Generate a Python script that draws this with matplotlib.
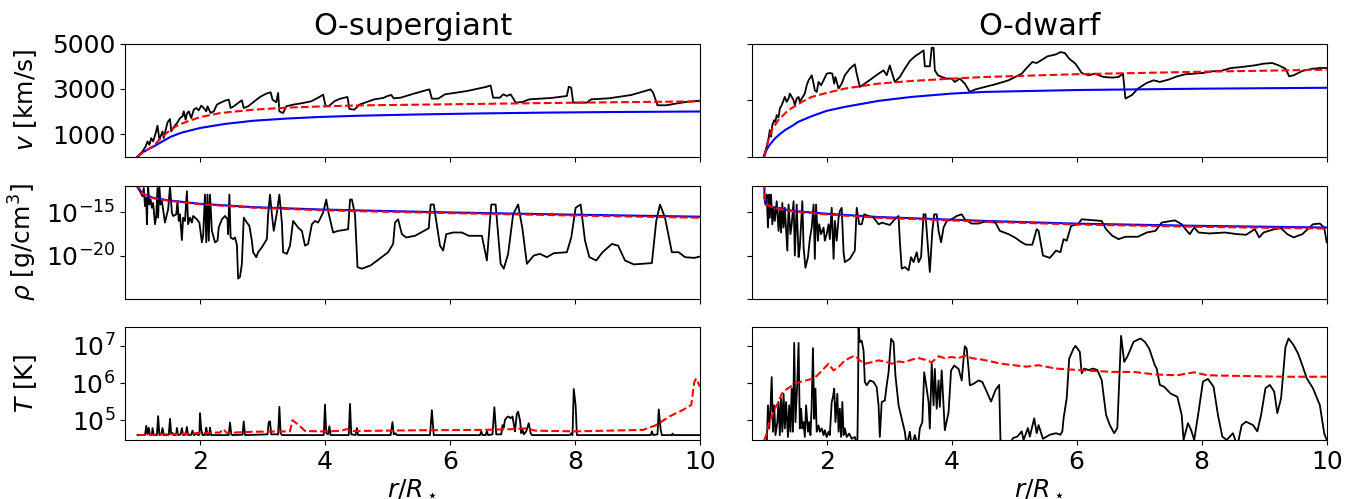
import numpy as np
import matplotlib
matplotlib.use("Agg")
import matplotlib.pyplot as plt
from matplotlib.ticker import NullLocator

# ---------------- data ----------------
# O-supergiant velocity [km/s]
sg_v_x = [1.0,1.08,1.13,1.16,1.19,1.22,1.25,1.29,1.32,1.35,
          1.40,1.42,1.48,1.52,1.54,1.58,1.64,1.68,1.72,1.74,
          1.77,1.79,1.82,1.86,1.90,1.94,1.98,2.02,2.06,2.10,
          2.12,2.17,2.22,2.27,2.32,2.40,2.46,2.49,2.54,2.61,
          2.67,2.70,2.77,2.85,2.96,3.06,3.13,3.16,3.22,3.25,
          3.27,3.33,3.38,3.49,3.65,3.78,3.91,3.97,4.01,4.07,
          4.15,4.23,4.36,4.39,4.47,4.55,4.64,4.79,4.93,5.00,
          5.06,5.10,5.21,5.42,5.57,5.67,5.71,5.81,5.92,6.27,
          6.59,6.65,6.69,6.80,6.85,6.91,6.97,7.02,7.05,7.16,
          7.27,7.62,7.87,7.90,7.94,7.97,8.19,8.26,8.54,8.90,
          9.21,9.25,9.32,9.46,9.61,9.78,10.0]
sg_v_y = [10,231,453,675,527,823,675,1045,1371,749,
          1119,823,1519,1667,1119,1311,1519,1711,1785,2007,
          1637,1903,2007,1711,2081,2155,2051,2259,2155,2007,
          2229,1933,2007,2303,2377,2481,2525,2155,2229,2377,
          2495,2155,2229,2407,2643,2791,2851,2525,2407,2821,
          2007,1933,2229,2303,2377,2451,2643,2747,2229,2259,
          2451,2555,2643,2111,2081,2303,2393,2539,2598,2686,
          2730,2583,2612,2788,2905,2979,2568,2568,2759,2905,
          3096,3154,2612,2612,2759,2686,2759,2539,2393,2422,
          2539,2598,2686,3096,3052,2393,2393,2539,2583,2730,
          2979,2832,2275,2275,2349,2422,2480]
sg_vbeta_x = [1.0,1.05,1.1,1.2,1.27,1.4,1.53,1.7,2.0,2.4,2.85,3.4,3.91,4.55,5.5,6.5,7.5,8.5,10.0]
sg_vbeta_y = [0,120,220,370,470,680,880,1060,1270,1450,1590,1690,1757,1814,1870,1915,1950,1975,2000]
sg_vavg_x = [1.0,1.1,1.2,1.265,1.4,1.53,1.65,1.8,2.0,2.32,2.85,3.38,4.0,4.55,6.0,8.0,10.0]
sg_vavg_y = [0,230,380,500,900,1190,1400,1560,1750,1930,2080,2170,2230,2270,2320,2390,2450]

# O-dwarf velocity [km/s]
dw_v_x = [0.99,1.04,1.07,1.09,1.11,1.13,1.16,1.18,1.20,1.23,
          1.25,1.28,1.31,1.33,1.36,1.39,1.41,1.44,1.47,1.49,
          1.52,1.55,1.57,1.60,1.65,1.68,1.71,1.76,1.79,1.81,
          1.84,1.87,1.91,1.95,2.00,2.05,2.09,2.12,2.14,2.19,
          2.24,2.29,2.37,2.45,2.48,2.53,2.61,2.72,2.83,2.91,
          2.96,3.01,3.04,3.09,3.17,3.25,3.33,3.41,3.49,3.55,
          3.57,3.65,3.68,3.71,3.73,3.78,3.84,3.92,4.00,4.05,
          4.13,4.21,4.29,4.37,4.49,4.70,4.91,5.12,5.19,5.29,
          5.36,5.43,5.53,5.67,5.74,5.81,5.88,5.98,6.08,6.19,
          6.29,6.43,6.57,6.67,6.74,6.78,6.88,6.98,7.12,7.23,
          7.33,7.47,7.61,7.74,7.88,8.02,8.16,8.30,8.47,8.64,
          8.85,8.99,9.13,9.23,9.34,9.40,9.47,9.61,9.78,9.89,
          10.0]
dw_v_y = [0,441,809,1176,882,1397,1617,1544,1838,1735,
          2132,2279,2499,2646,2426,2573,2793,2646,2499,2279,
          2573,2646,2426,2573,2793,3161,3381,3602,3234,2940,
          2866,3307,3161,3381,3675,3704,3675,3234,3528,3013,
          3234,3602,3895,4087,3675,3087,3234,3455,3675,3822,
          3602,4042,3749,3307,3528,3895,4234,4439,4586,4704,
          3999,3999,4822,4822,3822,3602,3528,3455,3455,3307,
          3455,3234,2866,2969,3058,3205,3381,3675,3895,4190,
          4145,4263,4439,4528,4631,4586,4337,4116,3704,3601,
          3675,3528,3499,3528,3675,2573,2720,3013,3263,3381,
          3308,3411,3557,3646,3675,3704,3778,3793,3925,3969,
          4043,4116,4145,4043,3895,3557,3601,3793,3895,3925,
          3925]
dw_vbeta_x = [1.0,1.03,1.066,1.12,1.173,1.25,1.333,1.45,1.546,1.76,2.0,2.29,2.83,3.36,4.0,4.53,6.0,8.0,10.0]
dw_vbeta_y = [0,250,441,640,809,1000,1176,1370,1544,1793,2029,2205,2470,2646,2793,2867,2950,3010,3050]
dw_vavg_x = [1.0,1.066,1.12,1.226,1.386,1.6,1.76,2.0,2.29,2.83,3.36,4.0,4.53,6.0,8.0,10.0]
dw_vavg_y = [0,735,1176,1617,2058,2420,2646,2823,3013,3234,3352,3454,3528,3650,3760,3850]

# O-supergiant density, log10 rho [g/cm^3]
sg_rho_x = [1.0,1.04,1.08,1.10,1.12,1.14,1.15,1.16,1.17,1.19,
            1.21,1.23,1.25,1.28,1.30,1.32,1.33,1.35,1.37,1.39,
            1.41,1.44,1.47,1.49,1.52,1.55,1.57,1.62,1.64,1.66,
            1.68,1.71,1.73,1.76,1.79,1.81,1.84,1.87,1.89,1.95,
            1.99,2.03,2.05,2.08,2.10,2.12,2.14,2.16,2.19,2.24,
            2.28,2.30,2.35,2.40,2.44,2.45,2.47,2.49,2.53,2.56,
            2.59,2.61,2.64,2.67,2.70,2.75,2.79,2.83,2.85,2.90,
            2.93,2.99,3.07,3.09,3.12,3.15,3.18,3.23,3.27,3.31,
            3.33,3.39,3.44,3.49,3.57,3.63,3.68,3.73,3.79,3.84,
            3.89,3.97,4.02,4.05,4.13,4.21,4.29,4.37,4.40,4.43,
            4.48,4.52,4.59,4.73,4.87,5.01,5.09,5.12,5.17,5.23,
            5.30,5.44,5.66,5.69,5.74,5.84,5.89,5.94,6.05,6.19,
            6.30,6.51,6.59,6.66,6.73,6.81,6.86,6.93,7.01,7.09,
            7.16,7.23,7.34,7.44,7.55,7.66,7.87,7.94,8.01,8.09,
            8.16,8.23,8.34,8.44,8.59,8.69,8.80,8.94,9.23,9.30,
            9.36,9.44,9.55,9.66,9.76,9.91,10.0]
sg_rho_log = [-12.16,-12.61,-13.18,-12.23,-14.32,-13.37,-16.40,-13.75,-12.05,-14.13,
              -13.56,-14.51,-13.94,-16.40,-15.45,-12.23,-15.64,-12.05,-14.13,-13.75,
              -14.70,-16.21,-15.26,-14.70,-12.05,-15.07,-15.45,-15.26,-13.75,-16.02,
              -15.26,-18.22,-15.64,-16.02,-12.61,-16.40,-15.64,-16.21,-15.45,-15.83,
              -16.21,-18.48,-17.73,-12.99,-18.48,-12.99,-18.30,-12.99,-17.16,-18.48,
              -18.30,-16.78,-15.83,-15.45,-15.83,-17.54,-12.99,-17.92,-18.11,-17.92,
              -18.75,-22.65,-22.46,-20.95,-15.64,-16.21,-16.59,-18.30,-19.62,-20.19,
              -19.62,-19.05,-18.11,-15.26,-12.99,-15.26,-17.16,-15.07,-12.99,-16.21,
              -19.62,-19.81,-18.86,-16.02,-16.78,-17.16,-18.86,-18.67,-16.40,-16.02,
              -16.21,-15.07,-13.56,-14.89,-17.35,-17.16,-17.08,-16.97,-13.56,-13.56,
              -15.26,-21.33,-21.51,-21.14,-20.38,-19.62,-18.67,-16.21,-15.83,-17.54,
              -17.92,-17.73,-16.86,-14.13,-14.13,-18.86,-19.43,-17.54,-17.35,-17.35,
              -17.73,-17.73,-20.57,-14.13,-14.13,-20.95,-21.51,-19.81,-15.27,-14.13,
              -16.97,-20.95,-20.0,-19.81,-20.19,-19.73,-19.62,-17.92,-14.51,-14.13,
              -18.30,-20.19,-20.57,-19.62,-18.67,-18.86,-20.57,-21.02,-20.87,-16.02,
              -14.13,-15.64,-19.62,-19.62,-20.19,-20.27,-20.11]
sg_rhobeta_x = [1.0,1.02,1.05,1.09,1.25,1.52,2.0,2.85,3.92,4.56,6.0,8.0,10.0]
sg_rhobeta_log = [-11.5,-12.2,-12.6,-12.92,-13.37,-13.67,-14.05,-14.43,-14.70,-14.81,-15.04,-15.30,-15.53]
sg_rhoavg_x = [1.0,1.02,1.05,1.09,1.25,1.52,2.0,2.85,3.92,4.56,6.0,8.0,10.0]
sg_rhoavg_log = [-11.5,-12.2,-12.6,-12.92,-13.39,-13.71,-14.10,-14.49,-14.78,-14.90,-15.12,-15.40,-15.65]

# O-dwarf density, log10 rho [g/cm^3]
dw_rho_x = [1.0,
            1.02,1.04,1.06,1.08,1.09,1.11,1.13,1.15,1.17,1.20,
            1.23,1.25,1.27,1.29,1.31,1.33,1.37,1.39,1.42,1.44,
            1.47,1.49,1.52,1.55,1.57,1.61,1.63,1.66,1.70,1.73,
            1.76,1.79,1.81,1.83,1.86,1.88,1.91,1.95,1.97,2.0,
            2.03,2.05,2.08,2.11,2.13,2.16,2.19,2.21,2.24,2.27,
            2.29,2.37,2.45,2.48,2.52,2.56,2.60,2.67,2.75,2.83,
            2.89,2.93,3.01,3.09,3.15,3.17,3.20,3.25,3.31,3.35,
            3.39,3.44,3.47,3.51,3.55,3.58,3.62,3.65,3.69,3.72,
            3.76,3.79,3.83,3.87,3.92,4.0,4.08,4.16,4.21,4.32,
            4.43,4.53,4.70,4.77,4.91,5.01,5.12,5.19,5.29,5.36,
            5.39,5.46,5.57,5.67,5.74,5.79,5.84,5.91,6.02,6.08,
            6.29,6.40,6.47,6.57,6.67,6.78,6.98,7.12,7.26,7.36,
            7.57,7.68,7.74,7.81,7.88,7.95,8.12,8.37,8.57,8.71,
            8.85,8.92,8.99,9.16,9.27,9.37,9.47,9.61,9.78,9.89,
            9.96,10.0]
dw_rho_log = [-13.3,
              -14.13,-12.99,-16.78,-12.99,-15.64,-12.99,-16.40,-14.51,-16.02,-13.75,
              -17.16,-14.51,-17.35,-13.94,-16.78,-14.51,-19.43,-14.13,-17.54,-16.40,
              -13.75,-20.0,-14.13,-20.19,-19.05,-13.75,-19.05,-21.40,-20.19,-18.11,
              -16.78,-14.13,-20.38,-14.13,-18.30,-16.40,-17.54,-16.78,-18.30,-17.54,
              -16.40,-18.11,-14.51,-20.38,-16.02,-18.30,-15.64,-14.89,-14.51,-19.62,
              -20.76,-20.38,-19.43,-14.51,-16.40,-16.40,-15.26,-15.45,-15.64,-16.40,
              -16.21,-16.32,-16.48,-15.83,-15.45,-18.30,-21.51,-21.33,-21.70,-20.19,
              -20.76,-19.62,-20.76,-20.19,-15.26,-15.26,-19.05,-21.89,-17.16,-15.26,
              -15.26,-17.16,-18.48,-16.78,-16.02,-15.83,-15.45,-15.26,-15.83,-16.32,
              -16.32,-16.10,-16.21,-17.16,-17.54,-17.92,-18.48,-18.75,-18.75,-16.97,
              -17.16,-20.0,-20.27,-19.43,-19.62,-18.11,-18.30,-16.59,-16.40,-15.83,
              -15.95,-16.02,-16.97,-17.73,-18.11,-17.84,-17.84,-17.35,-17.16,-16.21,
              -15.95,-16.40,-16.97,-17.54,-16.78,-17.35,-17.46,-17.35,-17.54,-17.61,
              -16.97,-17.92,-17.35,-16.97,-16.86,-17.54,-17.92,-17.54,-16.40,-16.32,
              -16.78,-18.48]
dw_rhobeta_x = [1.0,1.005,1.02,1.04,1.07,1.13,1.23,1.49,2.0,2.83,4.0,4.53,6.0,8.0,10.0]
dw_rhobeta_log = [-11.5,-13.0,-13.7,-13.95,-14.20,-14.40,-14.58,-14.89,-15.19,-15.57,-15.87,-16.02,-16.33,-16.59,-16.78]
dw_rhoavg_x = [1.0,1.005,1.02,1.04,1.07,1.13,1.23,1.49,2.0,2.83,4.0,4.53,6.0,8.0,10.0]
dw_rhoavg_log = [-11.5,-13.0,-13.75,-14.0,-14.25,-14.45,-14.64,-14.96,-15.27,-15.66,-15.96,-16.11,-16.43,-16.70,-16.90]

# O-supergiant temperature, log10 T [K]
sg_T_x = [1.0,1.12,1.14,1.16,1.18,1.20,1.23,1.24,1.26,1.31,1.33,1.35,1.38,1.40,1.42,
          1.50,1.52,1.54,1.56,1.58,1.62,1.63,1.65,1.69,1.71,1.73,1.77,1.79,1.81,
          1.86,1.88,1.90,1.93,1.95,1.97,1.99,2.00,2.02,2.04,2.09,2.10,2.12,2.15,2.16,2.18,
          2.46,2.48,2.50,2.52,2.68,2.70,2.72,3.08,3.10,3.12,3.14,3.25,3.27,3.29,3.31,
          3.98,4.00,4.02,4.05,4.07,4.09,4.38,4.40,4.42,4.49,4.51,4.53,
          5.05,5.08,5.10,5.13,5.15,5.68,5.71,5.74,
          6.48,6.50,6.52,6.57,6.59,6.61,6.68,6.71,6.74,6.82,6.84,6.86,6.88,6.91,6.94,
          6.97,7.00,7.02,7.04,7.05,7.07,7.09,7.12,7.14,7.16,7.18,7.22,7.26,7.29,7.31,
          7.92,7.94,7.96,7.98,8.01,8.03,9.21,9.23,9.25,9.32,9.34,9.37,9.39,
          9.55,9.56,9.58,10.0]
sg_T_log = [4.60,4.60,4.85,4.62,4.80,4.60,4.60,4.79,4.60,4.60,5.11,4.60,4.62,4.79,4.60,
            4.61,5.04,4.62,4.66,4.60,4.61,4.79,4.60,4.62,4.79,4.60,4.61,4.82,4.60,
            4.61,4.72,4.60,4.62,4.66,4.60,4.61,5.19,4.75,4.60,4.61,4.80,4.60,4.61,4.80,4.60,
            4.60,4.94,4.62,4.60,4.61,4.97,4.60,4.62,4.95,4.97,4.62,4.62,5.36,4.65,4.60,
            4.60,5.42,4.65,4.62,4.84,4.60,4.60,5.44,4.62,4.60,4.79,4.60,
            4.60,4.95,4.62,4.65,4.60,4.60,5.27,4.60,
            4.60,4.70,4.60,4.60,4.70,4.60,4.62,5.35,4.62,4.62,4.87,4.80,5.01,5.08,5.10,
            5.05,5.10,4.90,4.70,4.87,5.18,5.23,5.00,4.65,4.75,4.62,4.70,4.92,4.65,4.60,
            4.60,4.65,4.60,5.84,5.40,4.60,4.60,4.70,4.60,4.62,5.29,4.75,4.60,
            4.60,4.64,4.60,4.60]
sg_Tavg_x = [1.0,1.25,1.79,2.32,2.37,2.43,2.85,3.44,3.48,3.55,3.63,3.68,3.92,4.24,4.35,4.45,
             4.99,5.52,6.5,7.0,7.2,7.37,8.0,9.09,9.3,9.51,9.73,9.86,9.91,9.94,10.0]
sg_Tavg_log = [4.60,4.61,4.64,4.67,4.76,4.66,4.69,4.70,5.0,4.91,4.79,4.71,4.70,4.71,4.76,4.71,
               4.72,4.73,4.74,4.76,4.78,4.72,4.70,4.74,4.87,5.1,5.28,5.41,6.04,6.12,5.9]

# O-dwarf temperature, log10 T [K]
dw_T_x = [1.0,1.04,1.06,1.08,1.10,1.12,1.14,1.16,1.18,1.21,
          1.23,1.25,1.27,1.29,1.31,1.33,1.35,1.38,1.40,1.42,
          1.44,1.46,1.48,1.50,1.53,1.55,1.57,1.59,1.61,1.63,
          1.65,1.67,1.70,1.72,1.74,1.76,1.78,1.80,1.82,1.84,
          1.87,1.89,1.92,1.95,1.97,2.0,2.03,2.05,2.08,2.10,
          2.12,2.14,2.17,2.19,2.21,2.23,2.25,2.27,2.29,2.32,
          2.36,2.40,2.45,2.49,2.50,2.51,2.53,2.56,2.59,2.61,
          2.64,2.69,2.75,2.80,2.83,2.85,2.88,2.93,2.96,2.99,
          3.03,3.07,3.10,3.15,3.20,3.25,3.28,3.33,3.36,3.41,
          3.46,3.49,3.53,3.56,3.60,3.63,3.65,3.68,3.71,3.73,
          3.76,3.79,3.81,3.84,3.87,3.89,3.95,3.99,4.04,4.11,
          4.16,4.19,4.21,4.24,4.27,4.29,4.35,4.43,4.49,4.56,
          4.63,4.70,4.76,4.78,4.91,4.98,5.05,5.12,5.15,5.22,
          5.25,5.32,5.36,5.39,5.46,5.57,5.67,5.74,5.77,5.79,
          5.84,5.88,5.95,5.98,6.05,6.08,6.12,6.19,6.26,6.33,
          6.40,6.47,6.53,6.60,6.65,6.71,6.76,6.81,6.91,7.02,
          7.09,7.16,7.25,7.28,7.33,7.40,7.50,7.61,7.68,7.71,
          7.78,7.83,7.88,7.95,8.02,8.10,8.19,8.26,8.33,8.40,
          8.50,8.57,8.64,8.71,8.82,8.89,8.95,9.02,9.09,9.16,
          9.21,9.27,9.34,9.39,9.47,9.54,9.61,9.68,9.78,9.89,
          9.96,10.0]
dw_T_log = [4.3,4.3,5.40,4.78,5.31,6.16,4.69,5.40,4.60,4.95,
            5.49,4.60,5.58,4.69,5.71,4.78,5.49,4.55,5.40,4.69,
            5.85,4.69,7.08,4.95,6.03,7.08,4.78,5.31,4.78,4.95,
            4.55,5.40,4.69,4.95,4.60,5.40,6.94,5.04,5.85,4.69,
            4.86,4.69,4.78,4.60,4.73,4.55,4.69,4.60,5.49,5.62,
            5.85,4.95,5.71,4.69,5.31,4.55,5.49,4.60,4.78,4.55,
            4.64,4.50,4.55,4.3,5.49,7.47,7.10,7.14,6.87,6.03,
            5.94,6.07,6.03,5.89,5.40,4.55,5.49,5.53,5.94,6.29,
            7.19,7.10,6.20,5.40,5.04,4.69,4.3,4.69,4.3,4.60,
            4.3,4.78,4.95,6.29,5.85,5.49,4.78,6.52,5.40,6.38,
            5.31,6.07,5.36,6.34,5.40,4.73,5.22,6.34,6.47,6.38,
            6.07,6.65,6.99,6.92,6.38,5.94,5.98,6.07,6.03,5.77,
            5.50,5.81,5.95,4.47,4.3,4.52,4.56,4.70,4.47,4.79,
            4.56,5.05,4.65,4.87,4.50,4.61,4.65,4.61,4.70,5.05,
            5.59,6.66,6.93,7.0,6.84,6.26,6.39,6.35,6.39,6.35,
            6.08,5.14,4.87,4.65,4.79,7.27,6.57,6.71,7.11,7.20,
            7.11,6.93,6.48,6.39,5.95,5.90,5.72,5.63,5.14,4.47,
            4.92,4.74,4.47,5.23,6.04,6.11,5.90,5.14,4.56,4.47,
            4.65,4.3,4.87,4.96,4.87,4.70,5.14,5.86,5.95,5.77,
            5.19,5.59,6.97,7.20,7.02,6.80,6.48,6.13,5.86,5.41,
            4.65,4.47]
dw_Tavg_x = [1.0,1.04,1.08,1.12,1.17,1.23,1.28,1.33,1.41,1.49,
             1.60,1.76,1.84,1.95,2.03,2.11,2.19,2.29,2.40,2.45,
             2.53,2.61,2.72,2.83,2.93,3.04,3.15,3.25,3.36,3.47,
             3.57,3.68,3.79,3.89,4.0,4.11,4.21,4.32,4.49,4.8,
             5.19,5.39,5.67,6.02,6.57,6.91,7.26,7.61,7.88,8.09,
             8.64,9.34,10.0]
dw_Tavg_log = [4.46,4.64,4.95,5.09,5.31,5.49,5.71,5.80,5.89,5.98,
               6.04,6.11,6.19,6.38,6.52,6.34,6.43,6.61,6.70,6.74,
               6.61,6.52,6.56,6.61,6.58,6.52,6.58,6.56,6.63,6.67,
               6.63,6.56,6.72,6.67,6.70,6.67,6.74,6.67,6.63,6.52,
               6.44,6.48,6.39,6.35,6.30,6.30,6.23,6.21,6.29,6.21,
               6.19,6.17,6.17]

titles = ["O-supergiant", "O-dwarf"]
ylabels = [r"$v$ [km/s]", r"$\rho$ [g/cm$^3$]", r"$T$ [K]"]
xticks = [2, 4, 6, 8, 10]

# ---------------- figure ----------------
plt.rcParams['font.family'] = ['DejaVu Sans']
plt.rcParams['mathtext.fontset'] = 'dejavusans'
fig = plt.figure(figsize=(13.58, 4.99), dpi=100)

W = 575 / 1358
H = 113 / 499
lefts = [125 / 1358, 751.7 / 1358]
bottoms = [1 - 156.7 / 499, 1 - 299 / 499, 1 - 440.3 / 499]

axes = [[fig.add_axes([lefts[c], bottoms[r], W, H]) for c in range(2)] for r in range(3)]

lw_k = 1.3
lw_c = 1.5

def p(a):
    return 10.0 ** np.asarray(a)

# row 0: velocity
ax = axes[0][0]
ax.plot(sg_v_x, sg_v_y, color='black', lw=lw_k)
ax.plot(sg_vbeta_x, sg_vbeta_y, color='blue', lw=lw_c)
ax.plot(sg_vavg_x, sg_vavg_y, color='red', ls='--', lw=lw_c)
ax.set_ylim(0, 5000)
ax.set_yticks([1000, 3000, 5000])

ax = axes[0][1]
ax.plot(dw_v_x, dw_v_y, color='black', lw=lw_k)
ax.plot(dw_vbeta_x, dw_vbeta_y, color='blue', lw=lw_c)
ax.plot(dw_vavg_x, dw_vavg_y, color='red', ls='--', lw=lw_c)
ax.set_ylim(0, 5000)
ax.set_yticks([0, 2500, 5000])

# row 1: density
ax = axes[1][0]
ax.plot(sg_rho_x, p(sg_rho_log), color='black', lw=lw_k)
ax.plot(sg_rhobeta_x, p(sg_rhobeta_log), color='blue', lw=lw_c)
ax.plot(sg_rhoavg_x, p(sg_rhoavg_log), color='red', ls='--', lw=lw_c)
ax.set_yscale('log')
ax.set_ylim(1e-25, 1e-12)
ax.set_yticks([1e-15, 1e-20])

ax = axes[1][1]
ax.plot(dw_rho_x, p(dw_rho_log), color='black', lw=lw_k)
ax.plot(dw_rhobeta_x, p(dw_rhobeta_log), color='blue', lw=lw_c)
ax.plot(dw_rhoavg_x, p(dw_rhoavg_log), color='red', ls='--', lw=lw_c)
ax.set_yscale('log')
ax.set_ylim(1e-25, 1e-12)
ax.set_yticks([1e-15, 1e-20, 1e-25])

# row 2: temperature
ax = axes[2][0]
ax.plot(sg_T_x, p(sg_T_log), color='black', lw=lw_k)
ax.plot(sg_Tavg_x, p(sg_Tavg_log), color='red', ls='--', lw=lw_c)
ax.set_yscale('log')

ax = axes[2][1]
ax.plot(dw_T_x, p(dw_T_log), color='black', lw=lw_k)
ax.plot(dw_Tavg_x, p(dw_Tavg_log), color='red', ls='--', lw=lw_c)
ax.set_yscale('log')

for c in range(2):
    axes[2][c].set_ylim(10 ** 4.46, 10 ** 7.5)
    axes[2][c].set_yticks([1e5, 1e6, 1e7])

for r in range(3):
    for c in range(2):
        ax = axes[r][c]
        ax.set_xlim(0.8, 10)
        ax.set_xticks(xticks)
        ax.yaxis.set_minor_locator(NullLocator())
        ax.tick_params(labelsize=18)
        if r < 2:
            ax.set_xticklabels([])
        else:
            ax.set_xlabel(r"$r/R_\star$", fontsize=18, labelpad=2)
        if c == 1:
            ax.set_yticklabels([])
        else:
            ax.set_ylabel(ylabels[r], fontsize=18)
            ax.yaxis.set_label_coords(-0.15, 0.5)

for c in range(2):
    axes[0][c].set_title(titles[c], fontsize=22)

fig.savefig("out.png", dpi=100)
